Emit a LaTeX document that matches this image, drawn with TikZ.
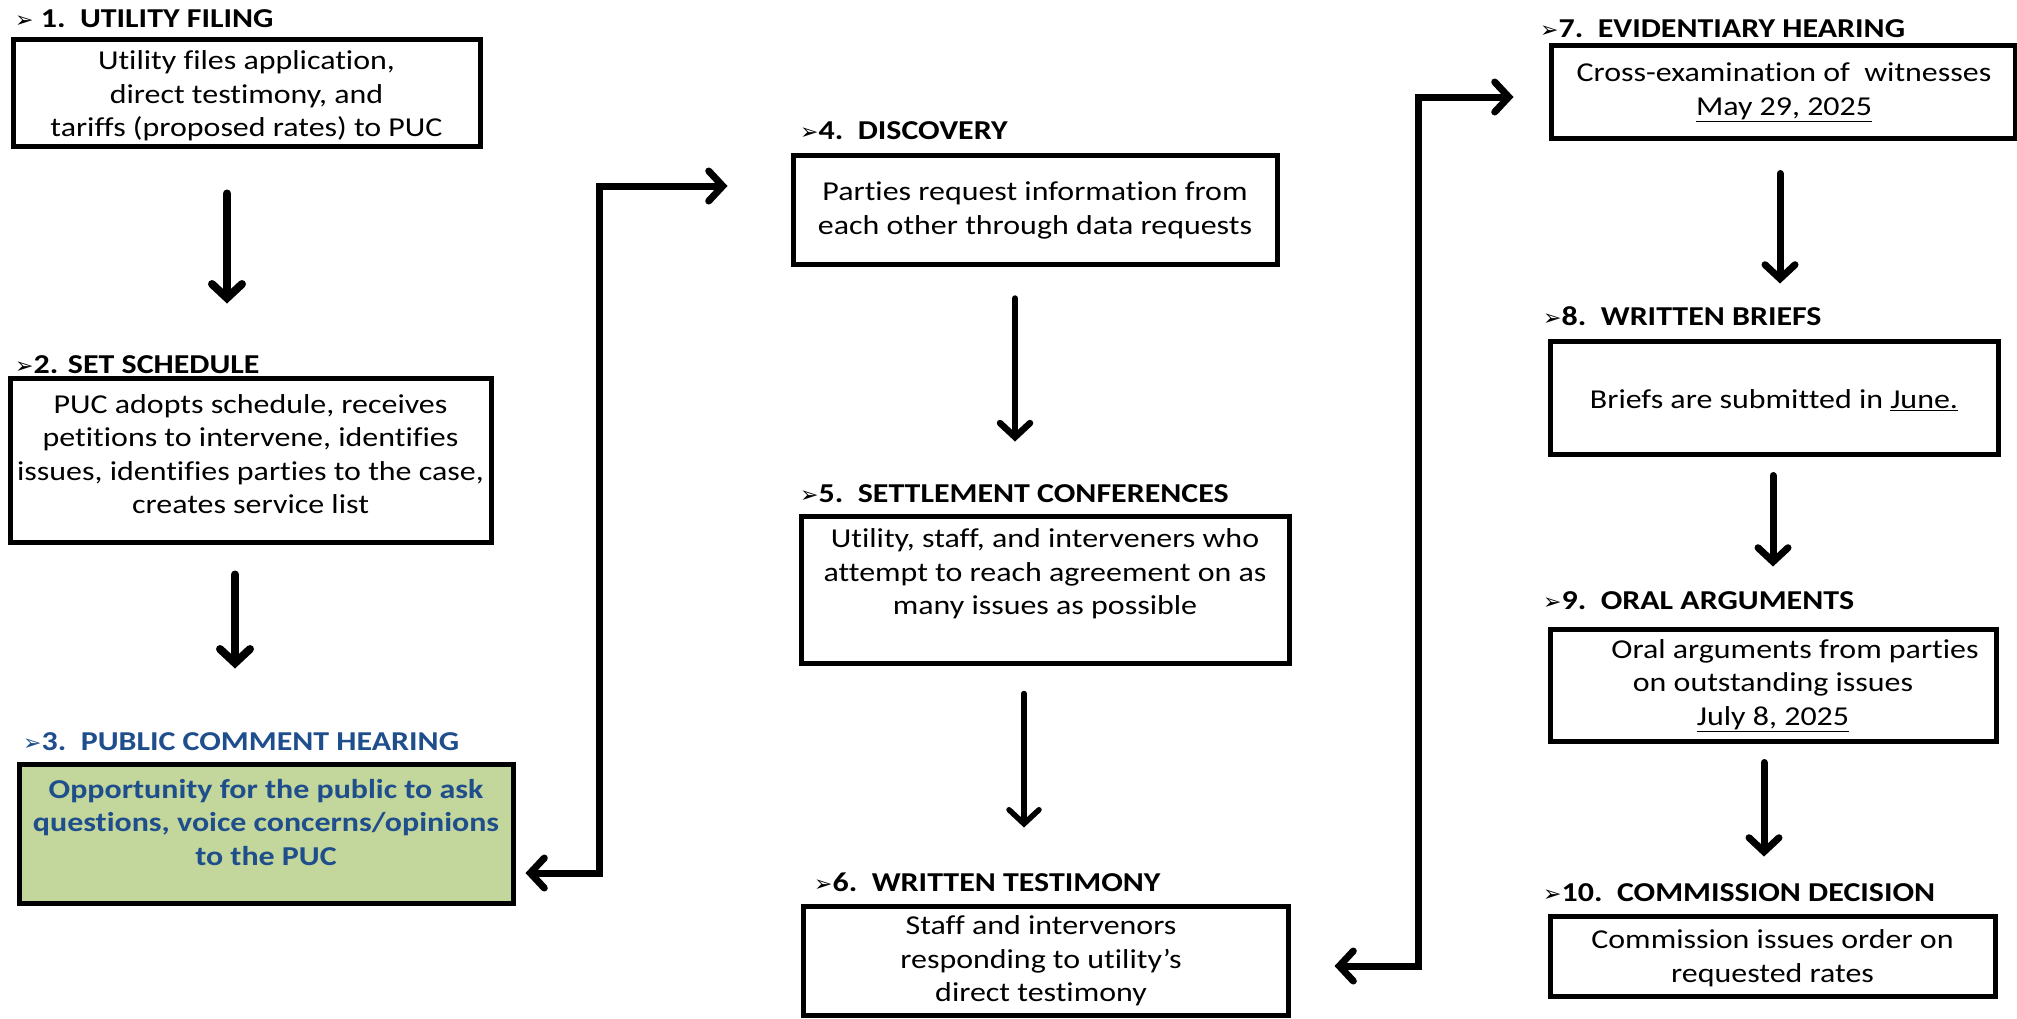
\documentclass[tikz,border=0pt]{standalone}
\usepackage{fontspec}
\setmainfont{Carlito}[FakeStretch=1.17,Ligatures=NoCommon]
\newfontfamily\dejavu{DejaVu Sans}
\usetikzlibrary{arrows.meta}
\definecolor{hblue}{HTML}{1F4E8C}
\definecolor{hgreen}{HTML}{C3D69B}
\newcommand{\bul}{{\dejavu\fontsize{22}{22}\selectfont ➢}}
\begin{document}
\begin{tikzpicture}[x=1pt,y=-1pt,
  box/.style={draw=black, line width=5pt, inner sep=0pt},
  ttl/.style={anchor=west, inner sep=0pt, font=\fontsize{27.3}{30}\selectfont\bfseries},
  txt/.style={align=center, inner sep=0pt, font=\fontsize{27.3}{33.5}\selectfont},
  arr/.style={line width=7pt, line cap=round, -{Straight Barb[length=14pt,width=30pt,line cap=round]}},
  elb/.style={line width=7pt, {Straight Barb[length=14pt,width=30pt,line cap=round]}-{Straight Barb[length=14pt,width=30pt,line cap=round]}}
]
\useasboundingbox (0,0) rectangle (2017,1018);
% boxes
\node[box, minimum width=467pt, minimum height=107pt] (b1) at (246.5,92.5) {};
\node[box, minimum width=481pt, minimum height=164pt] (b2) at (250.5,460) {};
\node[box, fill=hgreen, minimum width=494pt, minimum height=139pt] (b3) at (266,833.5) {};
\node[box, minimum width=484pt, minimum height=109pt] (b4) at (1035,209.5) {};
\node[box, minimum width=488pt, minimum height=147pt] (b5) at (1045,589.5) {};
\node[box, minimum width=485pt, minimum height=109pt] (b6) at (1045.5,960.5) {};
\node[box, minimum width=464pt, minimum height=93pt] (b7) at (1783,91.5) {};
\node[box, minimum width=448pt, minimum height=113pt] (b8) at (1774,397.5) {};
\node[box, minimum width=446pt, minimum height=112pt] (b9) at (1773,685) {};
\node[box, minimum width=445pt, minimum height=80pt] (b10) at (1772.5,956) {};
% titles
\node[ttl] (t1) at (15,19) {\bul\ 1.\ \ UTILITY FILING};
\node[ttl] (t2) at (15,365) {\bul2. SET SCHEDULE};
\node[ttl, text=hblue] (t3) at (23,742) {\bul3.\ \ PUBLIC COMMENT HEARING};
\node[ttl] (t4) at (800,131) {\bul4.\ \ DISCOVERY};
\node[ttl] (t5) at (800,494) {\bul5.\ \ SETTLEMENT CONFERENCES};
\node[ttl] (t6) at (814,882) {\bul6.\ \ WRITTEN TESTIMONY};
\node[ttl] (t7) at (1540,29) {\bul7.\ \ EVIDENTIARY HEARING};
\node[ttl] (t8) at (1543,316) {\bul8.\ \ WRITTEN BRIEFS};
\node[ttl] (t9) at (1543,601) {\bul9.\ \ ORAL ARGUMENTS};
\node[ttl] (t10) at (1543,893) {\bul10.\ \ COMMISSION DECISION};
% texts
\node[txt] (x1) at (246.5,96) {Utility files application,\\direct testimony, and\\tariffs (proposed rates) to PUC};
\node[txt] (x2) at (250.5,454) {PUC adopts schedule, receives\\petitions to intervene, identifies\\issues, identifies parties to the case,\\creates service list};
\node[txt, text=hblue, font=\fontsize{27.3}{33.5}\selectfont\bfseries] (x3) at (266,822.5) {Opportunity for the public to ask\\questions, voice concerns/opinions\\to the PUC};
\node[txt] (x4) at (1035,210.5) {Parties request information from\\each other through data requests};
\node[txt] (x5) at (1045,574) {Utility, staff, and interveners who\\attempt to reach agreement on as\\many issues as possible};
\node[txt] (x6) at (1041,961) {Staff and intervenors\\responding to utility's\\direct testimony};
\node[txt] (x7) at (1784,92.5) {Cross-examination of\ \ witnesses\\\underline{May 29, 2025}};
\node[txt] (x8) at (1774,400) {Briefs are submitted in \underline{June.}};
\node[txt] (x9) at (1773,685.5) {\hspace*{44pt}Oral arguments from parties\\on outstanding issues\\\underline{July 8, 2025}};
\node[txt] (x10) at (1772.5,958) {Commission issues order on\\requested rates};
% vertical arrows
\draw[arr, line width=8pt] ([xshift=-19.5pt,yshift=-45pt]b1.south) -- ([xshift=-23.5pt,yshift=72pt]b2.north);
\draw[arr, line width=8pt] ([xshift=-15.5pt,yshift=-30pt]b2.south) -- ([xshift=-31pt,yshift=93pt]b3.north);
\draw[arr, line width=6.5pt] ([xshift=-20pt,yshift=-32pt]b4.south) -- ([xshift=-30pt,yshift=72pt]b5.north);
\draw[arr, line width=5.5pt] ([xshift=-21pt,yshift=-28pt]b5.south) -- ([xshift=-21.5pt,yshift=76pt]b6.north);
\draw[arr] ([xshift=-3pt,yshift=-33pt]b7.south) -- ([xshift=6pt,yshift=55pt]b8.north);
\draw[arr] ([xshift=-1pt,yshift=-19pt]b8.south) -- ([xshift=0pt,yshift=60pt]b9.north);
\draw[arr] ([xshift=-9pt,yshift=-19pt]b9.south) -- ([xshift=-8.5pt,yshift=57pt]b10.north);
% elbow connectors
\draw[elb] ([xshift=10pt,yshift=-39.5pt]b3.east) -- ++(74,0) |- ([xshift=-63pt,yshift=23.5pt]b4.west);
\draw[elb] ([xshift=44pt,yshift=-5.5pt]b6.east) -- ++(84,0) |- ([xshift=-35pt,yshift=-5.5pt]b7.west);
\end{tikzpicture}
\end{document}
